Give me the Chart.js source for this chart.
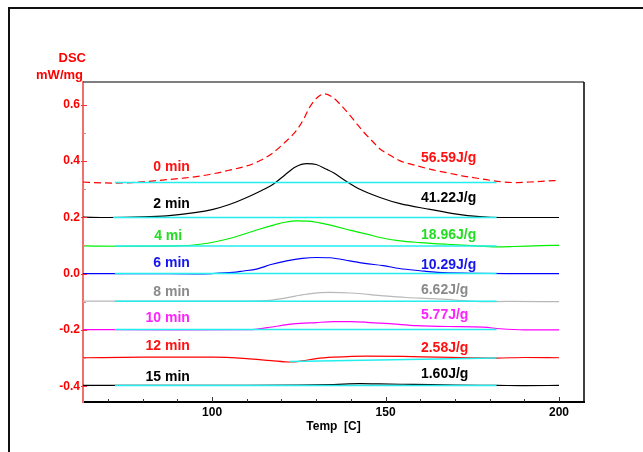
<!DOCTYPE html>
<html>
<head>
<meta charset="utf-8">
<script src="https://cdn.jsdelivr.net/npm/chart.js@4.4.0/dist/chart.umd.min.js"></script>
<style>
  body { margin: 0; background: #fff; }
</style>
</head>
<body>
<canvas id="dscChart" width="643" height="452"></canvas>
<script>
// annealing times and integrated enthalpies
const times = ['0 min', '2 min', '4 mi', '6 min', '8 min', '10 min', '12 min', '15 min'];
const enthalpies = ['56.59J/g', '41.22J/g', '18.96J/g', '10.29J/g', '6.62J/g', '5.77J/g', '2.58J/g', '1.60J/g'];

// Temp [C] / DSC [mW/mg]
const temp0 = [62.8, 68, 72, 77, 85, 91, 96.5, 101, 105, 110, 114, 117.6, 121, 123.2, 125.3, 126.8, 128, 130.5, 132.5, 134.5, 137, 140.7, 143.5, 146.5, 148.4, 151.3, 154.2, 158, 163, 167.6, 172, 177.2, 183.9, 188, 191.6, 196, 200];
const dsc0 = [0.325, 0.322, 0.321, 0.323, 0.331, 0.338, 0.346, 0.356, 0.367, 0.382, 0.402, 0.429, 0.466, 0.492, 0.525, 0.558, 0.588, 0.627, 0.638, 0.628, 0.600, 0.547, 0.505, 0.466, 0.442, 0.420, 0.400, 0.386, 0.370, 0.358, 0.347, 0.337, 0.325, 0.323, 0.325, 0.328, 0.331];

const temp2 = [62.8, 70, 80, 86.9, 95, 100.3, 105, 110, 114, 117.6, 121, 124, 127.3, 130, 133, 135, 138, 142.6, 148.4, 154.2, 162.8, 170, 177.2, 183, 190, 200];
const dsc2 = [0.200, 0.199, 0.201, 0.205, 0.216, 0.228, 0.245, 0.270, 0.293, 0.317, 0.350, 0.378, 0.390, 0.387, 0.370, 0.358, 0.333, 0.299, 0.270, 0.248, 0.228, 0.212, 0.202, 0.199, 0.199, 0.199];

const temp4 = [62.8, 75, 90, 96.5, 101, 106.1, 110, 113.8, 118, 121, 124.4, 128, 131, 135, 140, 144.6, 148.4, 154.2, 160, 167.6, 175, 182, 186.7, 195, 200];
const dsc4 = [0.098, 0.097, 0.098, 0.104, 0.113, 0.128, 0.143, 0.158, 0.173, 0.182, 0.187, 0.186, 0.180, 0.169, 0.153, 0.140, 0.128, 0.116, 0.110, 0.104, 0.099, 0.095, 0.096, 0.099, 0.100];

const temp6 = [62.8, 80, 95, 100, 106, 109, 112.8, 117, 121.5, 126, 130.1, 134, 139.7, 144, 149.3, 154, 159.9, 165, 175, 185, 200];
const dsc6 = [0.000, 0.000, -0.001, 0.000, 0.004, 0.009, 0.016, 0.032, 0.045, 0.054, 0.057, 0.056, 0.045, 0.036, 0.028, 0.018, 0.010, 0.004, 0.001, 0.000, 0.000];

const temp8 = [62.8, 90, 105, 115.7, 119.6, 124, 128, 134, 140, 149.3, 156, 163.8, 170, 178.2, 185, 200];
const dsc8 = [-0.098, -0.098, -0.098, -0.096, -0.090, -0.080, -0.072, -0.067, -0.069, -0.079, -0.085, -0.089, -0.094, -0.100, -0.099, -0.100];

const temp10 = [62.8, 90, 110.9, 116, 123.4, 130, 135, 140, 144.6, 152, 159, 168, 178.2, 183, 190, 200];
const dsc10 = [-0.199, -0.200, -0.199, -0.192, -0.179, -0.174, -0.171, -0.171, -0.173, -0.179, -0.185, -0.188, -0.190, -0.196, -0.200, -0.200];

const temp12 = [62.8, 80, 100, 110, 117, 122.5, 126, 130, 135, 144.6, 155, 165, 175, 182, 190, 200];
const dsc12 = [-0.299, -0.297, -0.297, -0.302, -0.309, -0.314, -0.310, -0.302, -0.297, -0.293, -0.294, -0.297, -0.299, -0.300, -0.298, -0.299];

const temp15 = [62.8, 90, 110, 125, 135, 142.6, 148, 155, 163, 170, 182, 190, 200];
const dsc15 = [-0.397, -0.397, -0.397, -0.396, -0.394, -0.391, -0.392, -0.393, -0.394, -0.396, -0.397, -0.398, -0.397];

// integration baselines (start temp, end temp, levels)
const baseStart = [72, 71.5, 72, 72, 72, 72, 122.5, 72];
const baseEnd = [182, 182, 182, 182, 182, 182, 182, 182];
const baseStartLevel = [0.323, 0.199, 0.098, 0.0, -0.098, -0.199, -0.312, -0.397];
const baseEndLevel = [0.323, 0.199, 0.098, 0.0, -0.098, -0.199, -0.300, -0.397];

const xTicks = [100, 150, 200];
const yTicks = [-0.4, -0.2, 0.0, 0.2, 0.4, 0.6];

const temps = [temp0, temp2, temp4, temp6, temp8, temp10, temp12, temp15];
const dscs = [dsc0, dsc2, dsc4, dsc6, dsc8, dsc10, dsc12, dsc15];

// styles
const lineColors = ['#ff0000', '#000000', '#00ee00', '#0000ff', '#b8b8b8', '#ff00ff', '#ff0000', '#000000'];
const textColors = ['#ff1111', '#000000', '#22dd22', '#1515ee', '#8a8a8a', '#ff22ff', '#ff1111', '#000000'];
// label lift above each curve's start level, px [left, right]
const labelLift = [[15, 24], [13, 19], [10, 11], [10, 8.5], [9, 11], [11.5, 14], [11.5, 9.5], [8.5, 11.5]];
const FONT = '"Liberation Sans", Arial, sans-serif';

const datasets = [];
// baselines first so they draw on top
for (let i = 0; i < times.length; i++) {
  datasets.push({
    data: [{x: baseStart[i], y: baseStartLevel[i]}, {x: baseEnd[i], y: baseEndLevel[i]}],
    borderColor: '#22eeee',
    borderWidth: 1.5,
    pointRadius: 0,
    tension: 0
  });
}
for (let i = 0; i < times.length; i++) {
  datasets.push({
    data: temps[i].map((t, k) => ({x: t, y: dscs[i][k]})),
    borderColor: lineColors[i],
    borderWidth: 1.2,
    borderDash: i === 0 ? [7, 4] : [],
    pointRadius: 0,
    cubicInterpolationMode: 'monotone'
  });
}

const decorPlugin = {
  id: 'decor',
  afterDraw(chart) {
    const ctx = chart.ctx;
    const a = chart.chartArea;
    const xs = chart.scales.x, ys = chart.scales.y;
    ctx.save();
    // outer frame
    ctx.strokeStyle = '#111';
    ctx.lineWidth = 2;
    ctx.strokeRect(9, 8, 800, 800);
    // plot frame top/right
    ctx.lineWidth = 1.5;
    ctx.strokeStyle = '#555';
    ctx.beginPath(); ctx.moveTo(a.left, a.top); ctx.lineTo(a.right, a.top); ctx.stroke();
    ctx.strokeStyle = '#000';
    ctx.beginPath(); ctx.moveTo(a.right, a.top); ctx.lineTo(a.right, a.bottom + 1); ctx.stroke();
    // x ticks, pointing up into the plot
    ctx.strokeStyle = '#333';
    ctx.lineWidth = 1;
    for (let v = 70; v <= 200; v += 10) {
      const px = Math.round(xs.getPixelForValue(v)) + 0.5;
      const len = v % 50 === 0 ? 5 : 3;
      ctx.beginPath(); ctx.moveTo(px, a.bottom); ctx.lineTo(px, a.bottom - len); ctx.stroke();
    }
    // y ticks
    ctx.strokeStyle = '#ff3030';
    yTicks.forEach(v => {
      const py = Math.round(ys.getPixelForValue(v)) + 0.5;
      ctx.beginPath(); ctx.moveTo(a.left - 2, py); ctx.lineTo(a.left + 4, py); ctx.stroke();
    });
    ctx.strokeStyle = '#f08080';
    [0.5, 0.3, 0.1, -0.1, -0.3].forEach(v => {
      const py = Math.round(ys.getPixelForValue(v)) + 0.5;
      ctx.beginPath(); ctx.moveTo(a.left, py); ctx.lineTo(a.left + 3, py); ctx.stroke();
    });
    // y axis unit
    ctx.fillStyle = '#ff0000';
    ctx.font = 'bold 13px ' + FONT;
    ctx.textAlign = 'right';
    ctx.textBaseline = 'middle';
    ctx.fillText('DSC', 86, 58);
    ctx.fillText('mW/mg', 83, 75);
    // curve labels
    ctx.font = 'bold 14px ' + FONT;
    const leftX = xs.getPixelForValue(93.6);
    const rightX = xs.getPixelForValue(160.2);
    for (let i = 0; i < times.length; i++) {
      const py = ys.getPixelForValue(dscs[i][0]);
      ctx.fillStyle = textColors[i];
      ctx.textAlign = i === 2 ? 'left' : 'right';
      ctx.fillText(times[i], i === 2 ? xs.getPixelForValue(83.3) : leftX, py - labelLift[i][0]);
      ctx.textAlign = 'left';
      ctx.fillText(enthalpies[i], rightX, py - labelLift[i][1]);
    }
    ctx.restore();
  }
};

new Chart(document.getElementById('dscChart'), {
  type: 'line',
  data: { datasets: datasets },
  options: {
    responsive: false,
    animation: false,
    layout: { padding: { top: 82, right: 59, left: 0, bottom: 0 } },
    plugins: { legend: { display: false }, tooltip: { enabled: false } },
    scales: {
      x: {
        type: 'linear',
        min: 62.8,
        max: 207.2,
        grid: { display: false, drawTicks: false },
        border: { color: '#000', width: 2 },
        afterBuildTicks: s => { s.ticks = xTicks.map(v => ({ value: v })); },
        afterFit: s => { s.height = 50; },
        ticks: {
          color: '#000', padding: 3, maxRotation: 0, autoSkip: false,
          font: { family: FONT, size: 12, weight: 'bold' },
          callback: v => String(v)
        },
        title: {
          display: true, text: 'Temp  [C]', color: '#000',
          font: { family: FONT, size: 12, weight: 'bold' },
          padding: { top: 0, bottom: 18 }
        }
      },
      y: {
        type: 'linear',
        min: -0.456,
        max: 0.68,
        grid: { display: false, drawTicks: false },
        border: { color: '#f07070', width: 2 },
        afterBuildTicks: s => { s.ticks = yTicks.map(v => ({ value: v })); },
        afterFit: s => { s.width = 83; },
        ticks: {
          color: '#ff0000', padding: 3,
          font: { family: FONT, size: 12, weight: 'bold' },
          callback: v => v.toFixed(1)
        }
      }
    }
  },
  plugins: [decorPlugin]
});
</script>
</body>
</html>
